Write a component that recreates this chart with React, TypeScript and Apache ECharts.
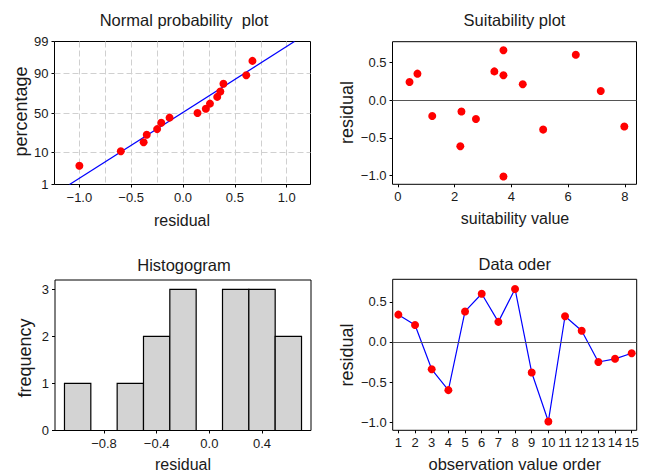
import React, { useEffect, useRef } from "react";
import * as echarts from "echarts";

// ---------- Data ----------
// Normal probability plot: sorted residuals and their plotted percentages
const NPP_RESIDUAL = [-1.0, -0.6, -0.38, -0.35, -0.25, -0.21, -0.13, 0.14, 0.22, 0.26, 0.33, 0.36, 0.39, 0.61, 0.67];
const NPP_PERCENT = [4.3, 10.7, 17, 24, 30, 37.5, 44, 50, 55.6, 62, 70, 75.7, 83, 89, 95.5];
const NPP_FIT_RESIDUAL = [-1.095, 1.075];
const NPP_FIT_PERCENT = [1, 99];
const NPP_PERCENT_TICKS = [1, 10, 50, 90, 99];
const NPP_RESIDUAL_TICKS = [-1.0, -0.5, 0.0, 0.5, 1.0];
const NPP_RESIDUAL_GRID = [-1.0, -0.75, -0.5, -0.25, 0.0, 0.25, 0.5, 0.75, 1.0];

// Suitability plot
const SUIT_VALUE = [0.41, 0.69, 1.21, 2.2, 2.24, 2.75, 3.4, 3.72, 3.72, 3.72, 4.4, 5.12, 6.27, 7.15, 7.98];
const SUIT_RESIDUAL = [0.24, 0.35, -0.21, -0.61, -0.15, -0.25, 0.38, 0.66, 0.33, -1.01, 0.21, -0.39, 0.6, 0.12, -0.35];
const SUIT_X_TICKS = [0, 2, 4, 6, 8];
const RESID_Y_TICKS = [-1.0, -0.5, 0.0, 0.5];

// Histogram
const HIST_BIN_START = [-1.1, -0.9, -0.7, -0.5, -0.3, -0.1, 0.1, 0.3, 0.5];
const HIST_BIN_END = [-0.9, -0.7, -0.5, -0.3, -0.1, 0.1, 0.3, 0.5, 0.7];
const HIST_COUNT = [1, 0, 1, 2, 3, 0, 3, 3, 2];
const HIST_X_TICKS = [-0.8, -0.4, 0.0, 0.4];
const HIST_Y_TICKS = [0, 1, 2, 3];

// Data order
const ORDER = [1, 2, 3, 4, 5, 6, 7, 8, 9, 10, 11, 12, 13, 14, 15];
const ORDER_RESIDUAL = [0.34, 0.21, -0.34, -0.6, 0.38, 0.6, 0.25, 0.66, -0.38, -0.99, 0.32, 0.14, -0.25, -0.21, -0.14];

// ---------- Helpers ----------
// inverse standard normal CDF (Acklam) used as the probability-axis scale
function normInv(p: number): number {
  const a = [-3.969683028665376e1, 2.209460984245205e2, -2.759285104469687e2, 1.38357751867269e2, -3.066479806614716e1, 2.506628277459239];
  const b = [-5.447609879822406e1, 1.615858368580409e2, -1.556989798598866e2, 6.680131188771972e1, -1.328068155288572e1];
  const c = [-7.784894002430293e-3, -3.223964580411365e-1, -2.400758277161838, -2.549671348542469, 4.374664141464968, 2.938163982698783];
  const d = [7.784695709041462e-3, 3.224671290700398e-1, 2.445134137142996, 3.754408661907416];
  const pl = 0.02425;
  if (p < pl) {
    const q = Math.sqrt(-2 * Math.log(p));
    return (((((c[0] * q + c[1]) * q + c[2]) * q + c[3]) * q + c[4]) * q + c[5]) / ((((d[0] * q + d[1]) * q + d[2]) * q + d[3]) * q + 1);
  }
  if (p <= 1 - pl) {
    const q = p - 0.5;
    const r = q * q;
    return ((((((a[0] * r + a[1]) * r + a[2]) * r + a[3]) * r + a[4]) * r + a[5]) * q) / (((((b[0] * r + b[1]) * r + b[2]) * r + b[3]) * r + b[4]) * r + 1);
  }
  const q = Math.sqrt(-2 * Math.log(1 - p));
  return -(((((c[0] * q + c[1]) * q + c[2]) * q + c[3]) * q + c[4]) * q + c[5]) / ((((d[0] * q + d[1]) * q + d[2]) * q + d[3]) * q + 1);
}
const pz = (pct: number) => normInv(pct / 100);

const FONT = "'Liberation Sans', Arial, sans-serif";
const TEXT = "#1a1a1a";
const fmt1 = (v: number) => {
  const s = Math.abs(v) < 1e-9 ? "0.0" : v.toFixed(1);
  return s.replace("-", "\u2212");
};
const fmtInt = (v: number) => String(Math.round(v));

function valueAxis(gridIndex: number, min: number, max: number, values: number[], formatter: (v: number) => string, extra: any = {}) {
  return {
    type: "value",
    gridIndex,
    min,
    max,
    axisLine: { show: false, onZero: false },
    axisTick: { show: true, inside: false, length: 3, lineStyle: { color: "#000", width: 1 }, customValues: values },
    axisLabel: { customValues: values, formatter, margin: 6, fontSize: 13, color: TEXT, fontFamily: FONT },
    splitLine: { show: false },
    ...extra,
  };
}

export default function App() {
  const ref = useRef<HTMLDivElement>(null);
  useEffect(() => {
    if (!ref.current) return;
    const chart = echarts.init(ref.current, undefined, { renderer: "svg" });
    const zMin = pz(1);
    const zMax = pz(99);
    const pctTicksZ = NPP_PERCENT_TICKS.map(pz);
    const pctFormatter = (v: number) => {
      let best = 0;
      pctTicksZ.forEach((z, i) => {
        if (Math.abs(z - v) < Math.abs(pctTicksZ[best] - v)) best = i;
      });
      return String(NPP_PERCENT_TICKS[best]);
    };
    const border = { show: true, borderColor: "#000", borderWidth: 1, backgroundColor: "transparent" };
    const title = (text: string, x: number, y: number, size = 16.5) => ({
      type: "text",
      x,
      y,
      style: { text, fill: TEXT, fontSize: size, fontFamily: FONT, textAlign: "center", textVerticalAlign: "middle" },
    });
    const vname = (text: string, x: number, y: number) => ({
      type: "text",
      x,
      y,
      rotation: Math.PI / 2,
      style: { text, fill: TEXT, fontSize: 18, fontFamily: FONT, textAlign: "center", textVerticalAlign: "middle" },
    });
    const zeroLine = {
      silent: true,
      symbol: "none",
      label: { show: false },
      lineStyle: { color: "#555", width: 1, type: "solid" },
      data: [{ yAxis: 0 }],
    };

    const option: any = {
      animation: false,
      grid: [
        { left: 54.5, top: 41.5, width: 256, height: 143, ...border },
        { left: 392.5, top: 41.7, width: 244, height: 142.6, ...border },
        { left: 55, top: 280, width: 256, height: 150.5, ...border },
        { left: 392.7, top: 279.3, width: 244, height: 151, ...border },
      ],
      xAxis: [
        valueAxis(0, -1.24, 1.23, NPP_RESIDUAL_TICKS, fmt1),
        {
          type: "value",
          gridIndex: 0,
          min: -1.24,
          max: 1.23,
          position: "top",
          axisLine: { show: false, onZero: false },
          axisTick: { show: false, customValues: NPP_RESIDUAL_GRID },
          axisLabel: { show: false, customValues: NPP_RESIDUAL_GRID },
          splitLine: { show: true, lineStyle: { color: "#d0d0d0", width: 1, type: [6, 3] } },
        },
        valueAxis(1, -0.19, 8.41, SUIT_X_TICKS, fmtInt),
        valueAxis(2, -1.172, 0.772, HIST_X_TICKS, fmt1),
        valueAxis(3, 0.66, 15.3, ORDER, fmtInt),
      ],
      yAxis: [
        valueAxis(0, zMin, zMax, pctTicksZ, pctFormatter, {
          splitLine: { show: true, showMinLine: false, showMaxLine: false, lineStyle: { color: "#d0d0d0", width: 1, type: [6, 3] } },
        }),
        valueAxis(1, -1.114, 0.773, RESID_Y_TICKS, fmt1),
        valueAxis(2, 0, 3.2, HIST_Y_TICKS, fmtInt),
        valueAxis(3, -1.1, 0.78, RESID_Y_TICKS, fmt1),
      ],
      series: [
        {
          type: "line",
          xAxisIndex: 0,
          yAxisIndex: 0,
          data: NPP_FIT_RESIDUAL.map((r, i) => [r, pz(NPP_FIT_PERCENT[i])]),
          symbol: "none",
          lineStyle: { color: "#0000ff", width: 1.2 },
          z: 2,
        },
        {
          type: "scatter",
          xAxisIndex: 0,
          yAxisIndex: 0,
          data: NPP_RESIDUAL.map((r, i) => [r, pz(NPP_PERCENT[i])]),
          symbol: "circle",
          symbolSize: 8,
          itemStyle: { color: "#ff0000", opacity: 1 },
          z: 3,
        },
        {
          type: "scatter",
          xAxisIndex: 2,
          yAxisIndex: 1,
          data: SUIT_VALUE.map((v, i) => [v, SUIT_RESIDUAL[i]]),
          symbol: "circle",
          symbolSize: 8,
          itemStyle: { color: "#ff0000", opacity: 1 },
          markLine: zeroLine,
          z: 3,
        },
        {
          type: "custom",
          xAxisIndex: 3,
          yAxisIndex: 2,
          data: HIST_COUNT.map((c, i) => [HIST_BIN_START[i], HIST_BIN_END[i], c]),
          encode: { x: [0, 1], y: 2 },
          renderItem: (_params: any, api: any) => {
            const p0 = api.coord([api.value(0), api.value(2)]);
            const p1 = api.coord([api.value(1), 0]);
            return {
              type: "rect",
              shape: { x: p0[0], y: p0[1], width: p1[0] - p0[0], height: p1[1] - p0[1] },
              style: { fill: "#d3d3d3", stroke: "#000", lineWidth: 1.2 },
            };
          },
        },
        {
          type: "line",
          xAxisIndex: 4,
          yAxisIndex: 3,
          data: ORDER.map((o, i) => [o, ORDER_RESIDUAL[i]]),
          symbol: "circle",
          symbolSize: 8,
          showAllSymbol: true,
          lineStyle: { color: "#0000ff", width: 1.2 },
          itemStyle: { color: "#ff0000", borderWidth: 0 },
          markLine: zeroLine,
          z: 3,
        },
      ],
      graphic: [
        title("Normal probability  plot", 184, 20),
        title("Suitability plot", 514.5, 20),
        title("Histogogram", 184, 265),
        title("Data oder", 514.7, 264),
        title("residual", 182, 220, 16),
        title("suitability value", 515, 218, 16),
        title("residual", 183, 464.5, 16),
        title("observation value order", 514.7, 463.5, 16.5),
        vname("percentage", 20.5, 111.5),
        vname("residual", 347.4, 112.5),
        vname("frequency", 25, 358),
        vname("residual", 347, 355),
      ],
    };
    chart.setOption(option);
    return () => chart.dispose();
  }, []);
  return <div ref={ref} style={{ position: "fixed", left: 0, top: 0, width: 654, height: 473, background: "#fff" }} />;
}
